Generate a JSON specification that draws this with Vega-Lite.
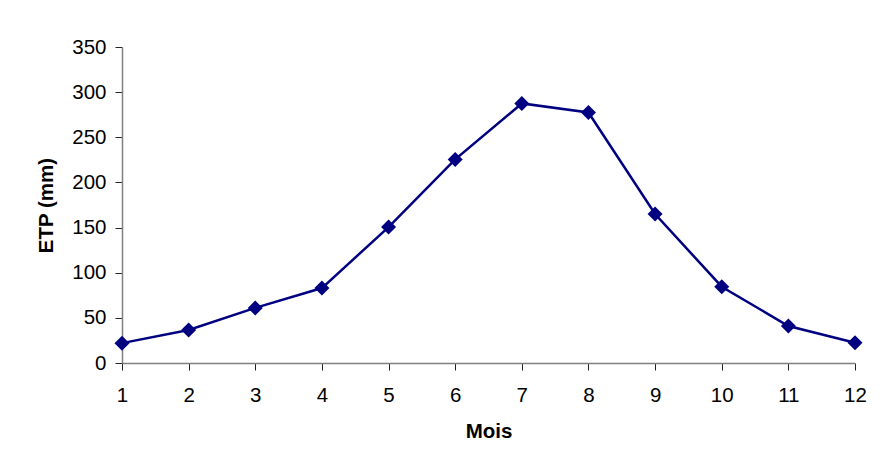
{
  "$schema": "https://vega.github.io/schema/vega-lite/v6.json",
  "width": 733,
  "height": 316,
  "autosize": {"type": "none"},
  "padding": {"left": 122, "top": 47, "right": 25, "bottom": 105},
  "background": "white",
  "config": {
    "font": "Liberation Sans",
    "view": {"stroke": null}
  },
  "data": {
    "values": [
      {"mois": 1, "etp": 22},
      {"mois": 2, "etp": 36.5},
      {"mois": 3, "etp": 61},
      {"mois": 4, "etp": 83},
      {"mois": 5, "etp": 150.5},
      {"mois": 6, "etp": 225.5},
      {"mois": 7, "etp": 287.5},
      {"mois": 8, "etp": 277.5},
      {"mois": 9, "etp": 165},
      {"mois": 10, "etp": 84.5},
      {"mois": 11, "etp": 41},
      {"mois": 12, "etp": 22.5}
    ]
  },
  "encoding": {
    "x": {
      "field": "mois",
      "type": "quantitative",
      "scale": {"domain": [1, 12], "nice": false, "zero": false},
      "axis": {
        "title": "Mois",
        "values": [1, 2, 3, 4, 5, 6, 7, 8, 9, 10, 11, 12],
        "grid": false,
        "domainColor": "#808080",
        "domainWidth": 1.5,
        "tickColor": "#222",
        "tickSize": 7,
        "labelFontSize": 20.5,
        "labelColor": "#000",
        "labelPadding": 15,
        "labelFlush": false,
        "titleFontSize": 20.5,
        "titleFontWeight": "bold",
        "titleColor": "#000",
        "titlePadding": 16
      }
    },
    "y": {
      "field": "etp",
      "type": "quantitative",
      "scale": {"domain": [0, 350], "nice": false},
      "axis": {
        "title": "ETP (mm)",
        "values": [0, 50, 100, 150, 200, 250, 300, 350],
        "grid": false,
        "domainColor": "#808080",
        "domainWidth": 1.5,
        "tickColor": "#222",
        "tickSize": 7,
        "labelFontSize": 20.5,
        "labelColor": "#000",
        "labelPadding": 9,
        "labelFlush": false,
        "titleFontSize": 20.5,
        "titleFontWeight": "bold",
        "titleColor": "#000",
        "titlePadding": 15
      }
    }
  },
  "layer": [
    {
      "mark": {"type": "line", "color": "#000080", "strokeWidth": 2.5}
    },
    {
      "mark": {"type": "point", "shape": "diamond", "filled": true, "color": "#000080", "size": 225, "opacity": 1}
    }
  ]
}
